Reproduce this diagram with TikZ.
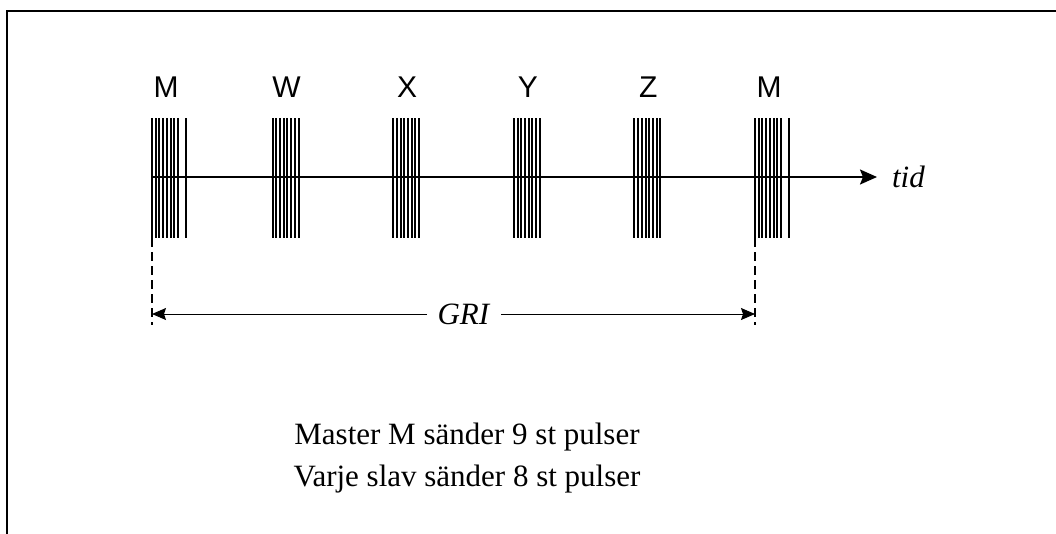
\documentclass[tikz,border=0pt]{standalone}
\usepackage{fontspec}
\setmainfont{Liberation Serif}
\newfontfamily\stnfont{Liberation Sans}
\usetikzlibrary{arrows.meta}
\newcommand{\stn}[1]{{\stnfont\fontsize{30}{32}\selectfont #1}}
\newcommand{\lbl}[1]{{\fontsize{31}{36}\selectfont #1}}

\begin{document}
\begin{tikzpicture}[x=1pt, y=-1pt, line width=2pt]
  \useasboundingbox (0,0) rectangle (1056,533);
  \draw (7,540) -- (7,11) -- (1062,11);
  \foreach \x/\n [count=\i] in {152/M, 272.6/W, 393.2/X, 513.8/Y, 634.4/Z, 755/M} {
    \foreach \k in {0,...,7} { \draw[line width=2pt] (\x+3.7*\k,118) -- (\x+3.7*\k,238); }
    \node[anchor=base, inner sep=0pt] (st\i) at (\x+14,97) {\stn{\n}};
  }
  \foreach \x in {152, 755} { \draw[line width=2pt] (\x+33.5,118) -- (\x+33.5,238); }
  \coordinate (t0) at (152,177);
  \coordinate (t1) at (877,177);
  \draw[-{Stealth[length=17pt, width=15pt, inset=3pt]}] (t0) -- (t1);
  \node[anchor=west, inner sep=0pt] (tid) at (891,177) {\lbl{\textit{tid}}};
  \foreach \x in {152, 755} { \draw[dash pattern=on 9pt off 5pt] (\x,238) -- (\x,325); }
  \coordinate (g0) at (152,314);
  \coordinate (g1) at (755,314);
  \node[inner sep=0pt, minimum width=72pt] (gri) at (464,314) {\lbl{\textit{GRI}}};
  \draw[line width=1pt, -{Stealth[length=14pt, width=12pt, inset=2pt]}] (gri.west) -- (g0);
  \draw[line width=1pt, -{Stealth[length=14pt, width=12pt, inset=2pt]}] (gri.east) -- (g1);
  \node[anchor=base, inner sep=0pt] (master) at (467,444) {\lbl{Master M sänder 9 st pulser}};
  \node[anchor=base, inner sep=0pt] (slav) at (467,486) {\lbl{Varje slav sänder 8 st pulser}};
\end{tikzpicture}
\end{document}
